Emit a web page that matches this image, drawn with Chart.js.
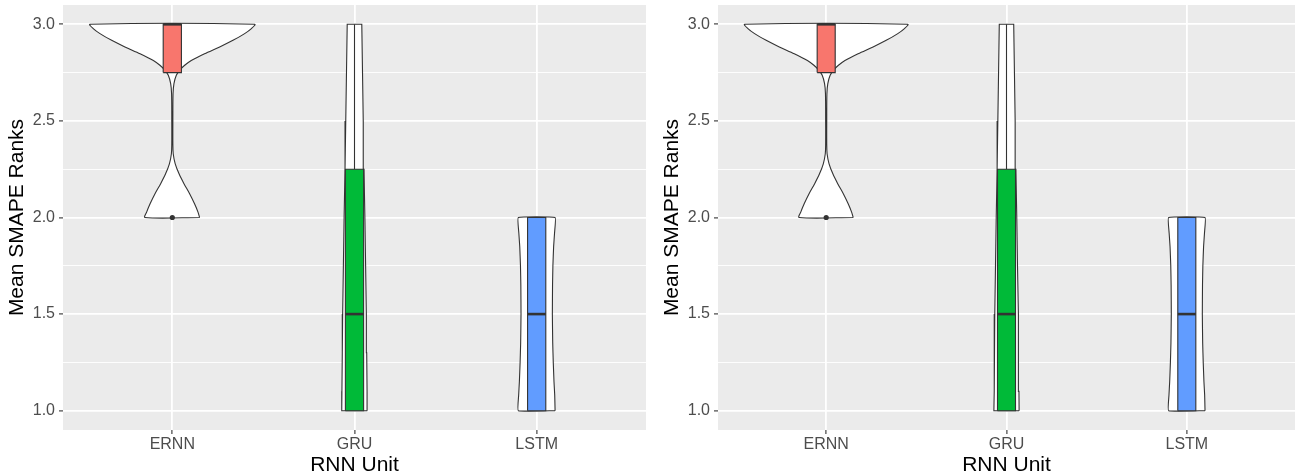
<!DOCTYPE html>
<html>
<head>
<meta charset="utf-8">
<script src="https://cdn.jsdelivr.net/npm/chart.js@4"></script>
<style>
  body { margin: 0; background: #fff; width: 1299px; height: 476px; overflow: hidden; position: relative; }
  canvas { position: absolute; top: 0; }
  #left { left: 0; }
  #right { left: 655px; }
</style>
</head>
<body>
<canvas id="left" width="654" height="476"></canvas>
<canvas id="right" width="644" height="476"></canvas>
<script>
const categories = ['ERNN', 'GRU', 'LSTM'];
const yTicks = [1.0, 1.5, 2.0, 2.5, 3.0];
const yMinor = [1.25, 1.75, 2.25, 2.75];
const fills = ['#F8766D', '#00BA38', '#619CFF'];

// violin outlines: rank level -> half width (in category units)
const ernnLevels = [2.0, 2.028, 2.071, 2.123, 2.175, 2.226, 2.278, 2.33, 2.382, 2.5, 2.641, 2.693, 2.736, 2.762, 2.788, 2.813, 2.848, 2.883, 2.917, 2.952, 2.978, 3.0];
const ernnWidths = [0.150, 0.141, 0.122, 0.095, 0.064, 0.037, 0.016, 0.005, 0.003, 0.003, 0.004, 0.009, 0.022, 0.040, 0.068, 0.104, 0.177, 0.260, 0.333, 0.397, 0.434, 0.452];
const gruLevels = [1.0, 1.1, 1.3, 1.5, 1.75, 2.0, 2.25, 2.5, 2.75, 3.0];
const gruWidths = [0.070, 0.069, 0.067, 0.065, 0.061, 0.057, 0.052, 0.048, 0.044, 0.040];
const lstmLevels = [1.0, 1.08, 1.15, 1.25, 1.35, 1.5, 1.65, 1.75, 1.85, 1.92, 2.0];
const lstmWidths = [0.101, 0.099, 0.095, 0.091, 0.088, 0.086, 0.087, 0.089, 0.093, 0.098, 0.101];
const violinLevels = [ernnLevels, gruLevels, lstmLevels];
const violinWidths = [ernnWidths, gruWidths, lstmWidths];
const violinTension = [0.3, 0, 0.1];

// box plot stats
const boxLower = [2.75, 1.0, 1.0];
const boxMedian = [3.0, 1.5, 1.5];
const boxUpper = [3.0, 2.25, 2.0];
const whiskerLow = [2.75, 1.0, 1.0];
const whiskerHigh = [3.0, 3.0, 2.0];
const outliers = [[2.0], [], []];

const BOX_HALF = 0.05;
const INK = '#333333';

Chart.defaults.font.family = '"Liberation Sans", Arial, sans-serif';

const panelBg = {
  id: 'panelBg',
  beforeDraw(chart) {
    const a = chart.chartArea;
    const ctx = chart.ctx;
    ctx.save();
    ctx.fillStyle = '#EBEBEB';
    ctx.fillRect(a.left, a.top, a.right - a.left, a.bottom - a.top);
    ctx.restore();
  }
};

function violinPoints(i) {
  const c = i + 1;
  const lv = violinLevels[i], w = violinWidths[i];
  const right = lv.map((y, k) => ({ x: c + w[k], y }));
  const left = lv.map((y, k) => ({ x: c - w[k], y })).reverse();
  return right.concat(left, [right[0]]);
}

function boxPoints(i) {
  const c = i + 1;
  return [
    { x: c - BOX_HALF, y: boxLower[i] },
    { x: c + BOX_HALF, y: boxLower[i] },
    { x: c + BOX_HALF, y: boxUpper[i] },
    { x: c - BOX_HALF, y: boxUpper[i] },
    { x: c - BOX_HALF, y: boxLower[i] }
  ];
}

function buildDatasets() {
  const ds = [];
  categories.forEach((cat, i) => {
    const c = i + 1;
    ds.push({
      data: violinPoints(i), order: 4, fill: 'shape', tension: violinTension[i],
      backgroundColor: '#FFFFFF', borderColor: INK, borderWidth: 1.1, pointRadius: 0
    });
    if (whiskerHigh[i] > boxUpper[i]) {
      ds.push({
        data: [{ x: c, y: boxUpper[i] }, { x: c, y: whiskerHigh[i] }], order: 3,
        borderColor: INK, borderWidth: 1.1, pointRadius: 0, fill: false
      });
    }
    if (whiskerLow[i] < boxLower[i]) {
      ds.push({
        data: [{ x: c, y: whiskerLow[i] }, { x: c, y: boxLower[i] }], order: 3,
        borderColor: INK, borderWidth: 1.1, pointRadius: 0, fill: false
      });
    }
    ds.push({
      data: boxPoints(i), order: 2, fill: 'shape', tension: 0,
      backgroundColor: fills[i], borderColor: INK, borderWidth: 1.1, pointRadius: 0
    });
    ds.push({
      data: [{ x: c - BOX_HALF, y: boxMedian[i] }, { x: c + BOX_HALF, y: boxMedian[i] }], order: 1,
      borderColor: INK, borderWidth: 2.6, pointRadius: 0, fill: false
    });
    if (outliers[i].length) {
      ds.push({
        data: outliers[i].map(v => ({ x: c, y: v })), order: 0, showLine: false,
        pointRadius: 2.6, pointBackgroundColor: INK, pointBorderWidth: 0, fill: false
      });
    }
  });
  return ds;
}

function makePanel(id, rightPad) {
  const ctx = document.getElementById(id).getContext('2d');
  new Chart(ctx, {
    type: 'line',
    data: { datasets: buildDatasets() },
    options: {
      responsive: false,
      animation: false,
      layout: { padding: { top: 5, right: rightPad, left: 0, bottom: 0 } },
      plugins: { legend: { display: false }, tooltip: { enabled: false } },
      scales: {
        x: {
          type: 'linear', min: 0.4, max: 3.6,
          afterBuildTicks: s => { s.ticks = categories.map((c, i) => ({ value: i + 1 })); },
          afterFit: s => { s.height = 46; s.paddingLeft = 0; s.paddingRight = 0; },
          ticks: {
            callback: v => categories[v - 1], color: '#4D4D4D',
            font: { size: 16 }, padding: 1, maxRotation: 0, autoSkip: false
          },
          grid: { color: '#FFFFFF', lineWidth: 1.8, tickColor: INK, tickLength: 4, tickWidth: 1.1 },
          border: { display: false },
          title: { display: true, text: 'RNN Unit', color: '#000', font: { size: 21 }, padding: { top: 0, bottom: -2 } }
        },
        y: {
          type: 'linear', min: 0.9, max: 3.1,
          afterBuildTicks: s => { s.ticks = yTicks.concat(yMinor).sort((a, b) => a - b).map(v => ({ value: v })); },
          afterFit: s => { s.width = 63; s.paddingTop = 0; s.paddingBottom = 0; },
          ticks: {
            callback: v => yTicks.includes(v) ? v.toFixed(1) : '', color: '#4D4D4D',
            font: { size: 16 }, padding: 4, autoSkip: false
          },
          grid: {
            color: '#FFFFFF',
            lineWidth: c => yTicks.includes(c.tick.value) ? 1.8 : 0.9,
            tickColor: c => yTicks.includes(c.tick.value) ? INK : 'rgba(0,0,0,0)',
            tickLength: 4, tickWidth: 1.1
          },
          border: { display: false },
          title: { display: true, text: 'Mean SMAPE Ranks', color: '#000', font: { size: 21 }, padding: { top: 5, bottom: 0 } }
        }
      }
    },
    plugins: [panelBg]
  });
}

makePanel('left', 8);
makePanel('right', 0);
</script>
</body>
</html>
